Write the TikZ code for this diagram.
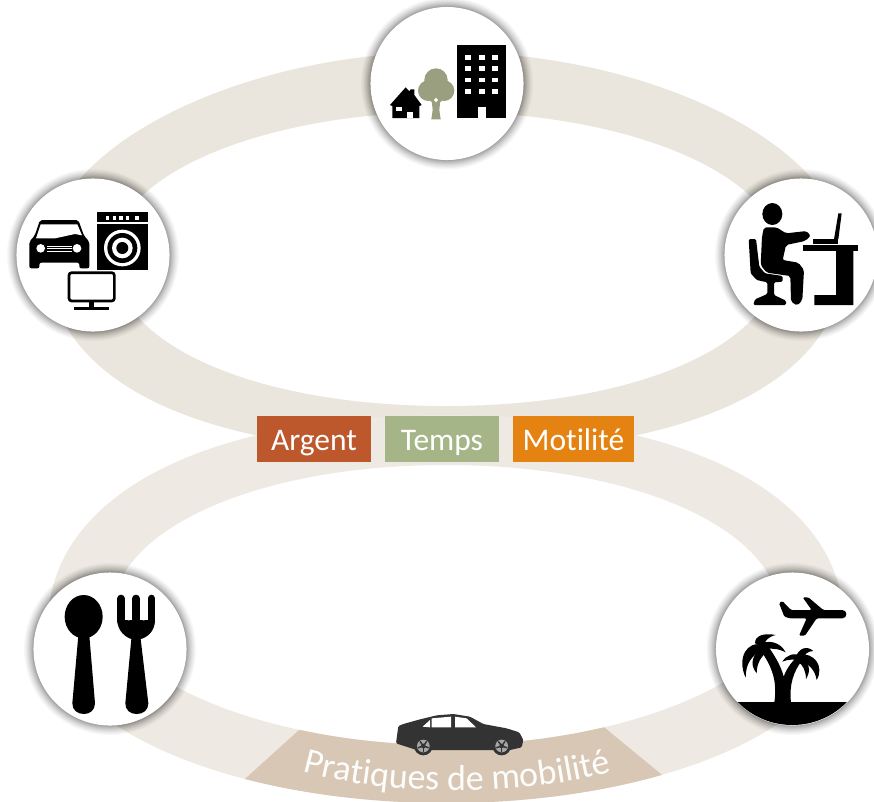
\documentclass[tikz,border=0pt]{standalone}
\usepackage{fontspec}
\setmainfont{Carlito}[Ligatures=NoCommon]
\usetikzlibrary{decorations.text}
\definecolor{ringtop}{HTML}{EBE6DD}
\definecolor{ringlow}{HTML}{EEE9E2}
\definecolor{ringdark}{HTML}{D7C7B4}
\definecolor{argentc}{HTML}{BD582C}
\definecolor{tempsc}{HTML}{A6B587}
\definecolor{motilc}{HTML}{E48312}
\definecolor{treec}{HTML}{9A9F80}
\definecolor{carc}{HTML}{333333}
\tikzset{
  disc/.style={circle,fill=white,inner sep=0pt,minimum size=114.8pt},
  tagbox/.style={rectangle,inner sep=0pt,text=white,minimum height=34.4pt,
    text height=16.5pt,text depth=0pt,align=center,font=\fontsize{23.6}{26}\selectfont},
  zoomed/.style={x=.25pt,y=-.25pt},
}
\newcommand\shadowdisc[3]{%
  \foreach \r in {76.5,76.8,77.1,77.5,77.9,78.3,78.8,79.3,79.9,80.5,81.2,82,82.8,83.7,84.7,86}{\fill[black,opacity=.032] (#2,#3) circle[radius=\r];}
  \node[disc] (#1) at (#2,#3) {};
}
\newcommand\lowring{(446,415) .. controls (206,415) and (48,495) .. (48,625) .. controls (48,725) and (227,803) .. (446,803) .. controls (665,803) and (844,725) .. (844,625) .. controls (844,495) and (686,415) .. (446,415) -- cycle
 (446,465) .. controls (256,465) and (112,530) .. (112,615) .. controls (112,675) and (261,745) .. (446,745) .. controls (631,745) and (780,675) .. (780,615) .. controls (780,530) and (636,465) .. (446,465) -- cycle}
\begin{document}
\begin{tikzpicture}[x=.75pt,y=-.75pt]
\useasboundingbox (0,0) rectangle (874,801);
% rings
\fill[ringtop,even odd rule] (446,52) .. controls (236,52) and (47,150) .. (47,255) .. controls (47,375) and (186,453) .. (446,453) .. controls (706,453) and (845,375) .. (845,255) .. controls (845,150) and (656,52) .. (446,52) -- cycle
 (446,112) .. controls (262,112) and (112,176) .. (112,255) .. controls (112,345) and (256,406) .. (446,406) .. controls (636,406) and (780,345) .. (780,255) .. controls (780,176) and (630,112) .. (446,112) -- cycle;
\fill[ringlow,even odd rule] \lowring;
\begin{scope}
\clip (340,693) -- (225,797) -- (225,815) -- (680,815) -- (684,793) -- (565,695) -- cycle;
\fill[ringdark,even odd rule] \lowring;
\end{scope}
% discs
\shadowdisc{dtop}{447}{83.5}
\shadowdisc{dleft}{93}{255}
\shadowdisc{dright}{801}{255}
\shadowdisc{dlowl}{110}{649}
\shadowdisc{dlowr}{792.5}{649}
% tags
\node[tagbox,fill=argentc,minimum width=85.5pt] (argent) at (314,439) {Argent};
\node[tagbox,fill=tempsc,minimum width=85.5pt] (temps) at (442,439) {Temps};
\node[tagbox,fill=motilc,minimum width=90.75pt] (motil) at (573.5,439) {Motilité};
% top icons
\begin{scope}[shift={(360,0)},zoomed]
\fill (292,135) rectangle (438,354);
\foreach \c in {316,356,396}\foreach \d in {165,198,233,268}{\fill[white] (\c,\d) rectangle (\c+18,\d+14);}
\fill[white] (353,320) rectangle (377,354);
\fill (90,315) -- (137,262) -- (148,274) -- (152,268) -- (163,268) -- (163,285) -- (185,315) -- (178,318) -- (178,354) -- (97,354) -- (97,318) -- cycle;
\fill[white] (107,320) rectangle (127,333);
\fill[white] (140,335) rectangle (160,354);
\fill[treec] (228,240) circle[radius=35] (205,272) circle[radius=31] (252,272) circle[radius=31] (228,285) circle[radius=25];
\fill[treec] (214,290) -- (242,290) -- (238,330) -- (242,358) -- (214,358) -- (218,330) -- cycle;
\fill[white] (228,293) -- (234,300) -- (228,307) -- (222,300) -- cycle;
\end{scope}
% left icons
\begin{scope}[shift={(0,170)},zoomed]
\fill[rounded corners=1.5pt] (120,150) -- (235,150) -- (252,197) -- (268,215) -- (268,295) -- (238,295) -- (238,278) -- (118,278) -- (118,295) -- (88,295) -- (88,215) -- (104,197) -- cycle;
\fill[white] (122,163) -- (232,163) -- (246,196) -- (225,192) -- (165,205) -- (108,205) -- cycle;
\fill[white] (122,235) circle[radius=13] (231,235) circle[radius=13];
\foreach \d in {228,235,243}{\fill[white] (140,\d-1) rectangle (215,\d+1);}
\fill (292,127) rectangle (444,299);
\fill[white] (292,157) rectangle (444,163);
\foreach \c in {322,343,363,383,411}{\fill[white] (\c-5,137) rectangle (\c+5,150);}
\fill[white] (367,234) circle[radius=55];
\fill (367,234) circle[radius=45];
\fill[white] (367,234) circle[radius=31];
\fill (367,234) circle[radius=18];
\draw[line width=2pt,rounded corners=2pt] (207,308) rectangle (343,393);
\fill (268,393) rectangle (283,412);
\fill (222,412) rectangle (328,420);
\end{scope}
% right icons
\begin{scope}[shift={(710,170)},zoomed]
\fill (187,132) ellipse[x radius=30,y radius=33];
\fill[rounded corners=1.5pt] (162,172) -- (200,172) -- (228,190) -- (290,183) -- (302,198) -- (285,213) -- (228,225) -- (218,270) -- (265,278) -- (282,300) -- (277,390) -- (262,407) -- (243,395) -- (241,318) -- (170,308) -- (152,285) -- (156,200) -- cycle;
\fill[rounded corners=1pt] (116,207) -- (138,207) -- (148,290) -- (165,310) -- (218,318) -- (218,335) -- (192,337) -- (192,375) -- (228,392) -- (228,405) -- (130,405) -- (135,388) -- (172,372) -- (172,337) -- (140,330) -- (122,310) -- cycle;
\fill (280,225) rectangle (445,242);
\fill (378,242) -- (430,242) -- (430,405) -- (313,405) -- (313,375) -- (378,375) -- cycle;
\fill (310,208) rectangle (385,222);
\fill (385,130) -- (395,130) -- (385,208) -- (372,208) -- cycle;
\end{scope}
% cutlery
\begin{scope}[shift={(20,565)},zoomed]
\fill (191,155) ellipse[x radius=57,y radius=65];
\fill (176,200) -- (207,200) -- (225,415) .. controls (225,435) and (210,447) .. (192,447) .. controls (172,447) and (157,435) .. (157,415) -- cycle;
\fill (292,165) .. controls (292,200) and (320,218) .. (334,222) -- (316,415) .. controls (316,435) and (330,447) .. (350,447) .. controls (370,447) and (385,435) .. (385,415) -- (362,222) .. controls (380,218) and (405,200) .. (405,165) -- cycle;
\fill[white] (315,100) -- (337,100) -- (337,155) .. controls (337,170) and (315,170) .. (315,155) -- cycle;
\fill[white] (360,100) -- (382,100) -- (382,155) .. controls (382,170) and (360,170) .. (360,155) -- cycle;
\draw[line width=5.5pt,line cap=round] (303,100) -- (303,170) (348,100) -- (348,170) (394,100) -- (394,170);
\end{scope}
% palm and plane
\begin{scope}[shift={(705,565)},zoomed]
\begin{scope}
\clip (262,251) circle[radius=229];
\fill (80,410) rectangle (450,490);
\end{scope}
\fill[rounded corners=1pt] (222,114) -- (232,108) -- (258,135) -- (320,135) -- (293,97) -- (310,97) -- (355,135) -- (408,135) .. controls (428,135) and (428,160) .. (408,160) -- (335,160) -- (300,212) -- (282,212) -- (305,160) -- (255,160) -- (238,155) -- cycle;
\fill (208,412) .. controls (218,350) and (200,300) .. (165,255) -- (190,245) .. controls (215,280) and (230,310) .. (236,335) .. controls (245,310) and (260,290) .. (280,272) -- (292,285) .. controls (265,320) and (252,360) .. (258,412) -- cycle;
\fill (175,240) .. controls (125,225) and (95,280) .. (122,338) .. controls (122,295) and (140,270) .. (175,255) -- cycle;
\fill (175,248) .. controls (145,265) and (130,295) .. (155,325) .. controls (155,295) and (168,275) .. (188,258) -- cycle;
\fill (155,240) .. controls (190,222) and (225,230) .. (242,262) .. controls (220,250) and (195,248) .. (165,255) -- cycle;
\fill (150,235) .. controls (150,212) and (175,203) .. (212,210) .. controls (190,215) and (178,228) .. (175,245) -- cycle;
\fill (290,272) .. controls (265,262) and (245,270) .. (232,290) .. controls (250,282) and (270,282) .. (288,288) -- cycle;
\fill (272,278) .. controls (280,250) and (305,240) .. (325,258) .. controls (308,258) and (298,268) .. (292,285) -- cycle;
\fill (280,268) .. controls (330,262) and (358,305) .. (335,345) .. controls (330,315) and (312,295) .. (282,288) -- cycle;
\fill (285,278) .. controls (312,290) and (320,315) .. (303,342) .. controls (302,315) and (294,300) .. (278,290) -- cycle;
\end{scope}
% car
\begin{scope}[shift={(240,700)},zoomed]
\fill[carc,rounded corners=1pt] (468,130) -- (475,78) -- (490,72) -- (540,58) -- (590,46) -- (640,42) -- (690,50) -- (730,72) -- (800,85) -- (838,97) -- (850,120) -- (845,142) -- (810,150) -- (530,150) -- cycle;
\fill[white] (575,55) -- (633,50) -- (633,82) -- (575,82) -- cycle;
\fill[white] (645,50) -- (680,55) -- (708,82) -- (645,82) -- cycle;
\fill[white] (548,80) -- (570,60) -- (570,82) -- cycle;
\foreach \c in {550,785}{
  \fill[carc] (\c,138) circle[radius=28];
  \fill[gray!70] (\c,138) circle[radius=19];
  \fill[carc] (\c,138) circle[radius=7];
  \foreach \a in {18,90,162,234,306}{\draw[carc,line width=1.1pt] (\c,138) -- ++(\a:17);}
}
\end{scope}
% curved label
\coordinate (labstart) at (300,771);
\coordinate (labend) at (614,771);
\path[decorate,decoration={text along path,text align=center,
  text={|\fontsize{27}{30}\selectfont\color{white!96!ringdark}|Pratiques de mobilité}}]
  (labstart) .. controls (390,797) and (524,797) .. (labend);
\end{tikzpicture}
\end{document}
